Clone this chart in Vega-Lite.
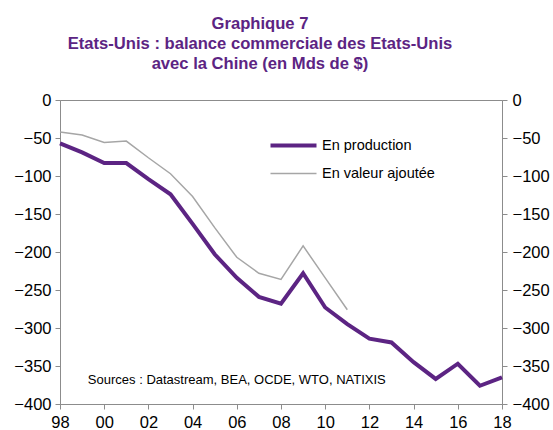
{
  "$schema": "https://vega.github.io/schema/vega-lite/v6.json",
  "width": 442,
  "height": 304,
  "autosize": {"type": "none"},
  "padding": {"left": 60, "top": 100, "right": 51, "bottom": 26},
  "background": "white",
  "config": {
    "font": "Liberation Sans",
    "view": {"stroke": "#8c8c8c", "strokeWidth": 1},
    "axis": {"domainColor": "#8c8c8c", "tickColor": "#8c8c8c", "labelColor": "#000000", "labelFontSize": 16.5, "labelFont": "Liberation Sans", "grid": false, "tickSize": 5, "title": null}
  },
  "title": {
    "text": ["Graphique 7", "Etats-Unis : balance commerciale des Etats-Unis", "avec la Chine (en Mds de $)"],
    "color": "#5C2483",
    "font": "Liberation Sans",
    "fontSize": 16.6,
    "fontWeight": "bold",
    "lineHeight": 20,
    "anchor": "middle",
    "dx": -21,
    "offset": 19
  },
  "data": {
    "values": [
      {"year": 1998, "series": "En production", "value": -57},
      {"year": 1999, "series": "En production", "value": -69},
      {"year": 2000, "series": "En production", "value": -83},
      {"year": 2001, "series": "En production", "value": -83},
      {"year": 2002, "series": "En production", "value": -104},
      {"year": 2003, "series": "En production", "value": -124},
      {"year": 2004, "series": "En production", "value": -163},
      {"year": 2005, "series": "En production", "value": -203},
      {"year": 2006, "series": "En production", "value": -234},
      {"year": 2007, "series": "En production", "value": -259},
      {"year": 2008, "series": "En production", "value": -268},
      {"year": 2009, "series": "En production", "value": -228},
      {"year": 2010, "series": "En production", "value": -273},
      {"year": 2011, "series": "En production", "value": -295},
      {"year": 2012, "series": "En production", "value": -314},
      {"year": 2013, "series": "En production", "value": -319},
      {"year": 2014, "series": "En production", "value": -345},
      {"year": 2015, "series": "En production", "value": -367},
      {"year": 2016, "series": "En production", "value": -347},
      {"year": 2017, "series": "En production", "value": -376},
      {"year": 2018, "series": "En production", "value": -365},
      {"year": 1998, "series": "En valeur ajoutée", "value": -42},
      {"year": 1999, "series": "En valeur ajoutée", "value": -46},
      {"year": 2000, "series": "En valeur ajoutée", "value": -56},
      {"year": 2001, "series": "En valeur ajoutée", "value": -54},
      {"year": 2002, "series": "En valeur ajoutée", "value": -76},
      {"year": 2003, "series": "En valeur ajoutée", "value": -97},
      {"year": 2004, "series": "En valeur ajoutée", "value": -127},
      {"year": 2005, "series": "En valeur ajoutée", "value": -168},
      {"year": 2006, "series": "En valeur ajoutée", "value": -207},
      {"year": 2007, "series": "En valeur ajoutée", "value": -228},
      {"year": 2008, "series": "En valeur ajoutée", "value": -236},
      {"year": 2009, "series": "En valeur ajoutée", "value": -192},
      {"year": 2010, "series": "En valeur ajoutée", "value": -234},
      {"year": 2011, "series": "En valeur ajoutée", "value": -276}
    ]
  },
  "layer": [
    {
      "mark": {"type": "line", "clip": false},
      "encoding": {
        "x": {
          "field": "year", "type": "quantitative",
          "scale": {"domain": [1998, 2018], "nice": false, "zero": false},
          "axis": {"values": [1998, 2000, 2002, 2004, 2006, 2008, 2010, 2012, 2014, 2016, 2018], "labelExpr": "substring(toString(datum.value), 2)", "labelPadding": 5, "labelFlush": false}
        },
        "y": {
          "field": "value", "type": "quantitative",
          "scale": {"domain": [-400, 0], "nice": false, "zero": false},
          "axis": {"orient": "left", "values": [0, -50, -100, -150, -200, -250, -300, -350, -400], "labelPadding": 4}
        },
        "color": {
          "field": "series", "type": "nominal",
          "scale": {"domain": ["En production", "En valeur ajoutée"], "range": ["#5C2483", "#A6A6A6"]},
          "legend": {"title": null, "orient": "none", "legendX": 220, "legendY": 32, "symbolType": "M-2,0L2,0", "symbolSize": 529, "labelFontSize": 14.5, "labelFont": "Liberation Sans", "labelColor": "#000000", "rowPadding": 7, "labelOffset": 15}
        },
        "strokeWidth": {
          "field": "series", "type": "nominal",
          "scale": {"domain": ["En production", "En valeur ajoutée"], "range": [4, 1.5]},
          "legend": {"title": null, "orient": "none", "legendX": 220, "legendY": 32, "symbolType": "M-2,0L2,0", "symbolSize": 529, "labelFontSize": 14.5, "labelFont": "Liberation Sans", "labelColor": "#000000", "rowPadding": 7, "labelOffset": 15}
        }
      }
    },
    {
      "data": {"values": [{"note": "Sources : Datastream, BEA, OCDE, WTO, NATIXIS"}]},
      "mark": {"type": "text", "fontSize": 13, "font": "Liberation Sans", "fill": "#000000", "align": "center", "baseline": "middle"},
      "encoding": {
        "x": {"datum": 2006, "type": "quantitative"},
        "y": {"datum": -368, "type": "quantitative", "axis": {"orient": "right", "values": [0, -50, -100, -150, -200, -250, -300, -350, -400], "labelPadding": 5}},
        "text": {"field": "note", "type": "nominal"}
      }
    }
  ],
  "resolve": {"axis": {"y": "independent"}}
}
